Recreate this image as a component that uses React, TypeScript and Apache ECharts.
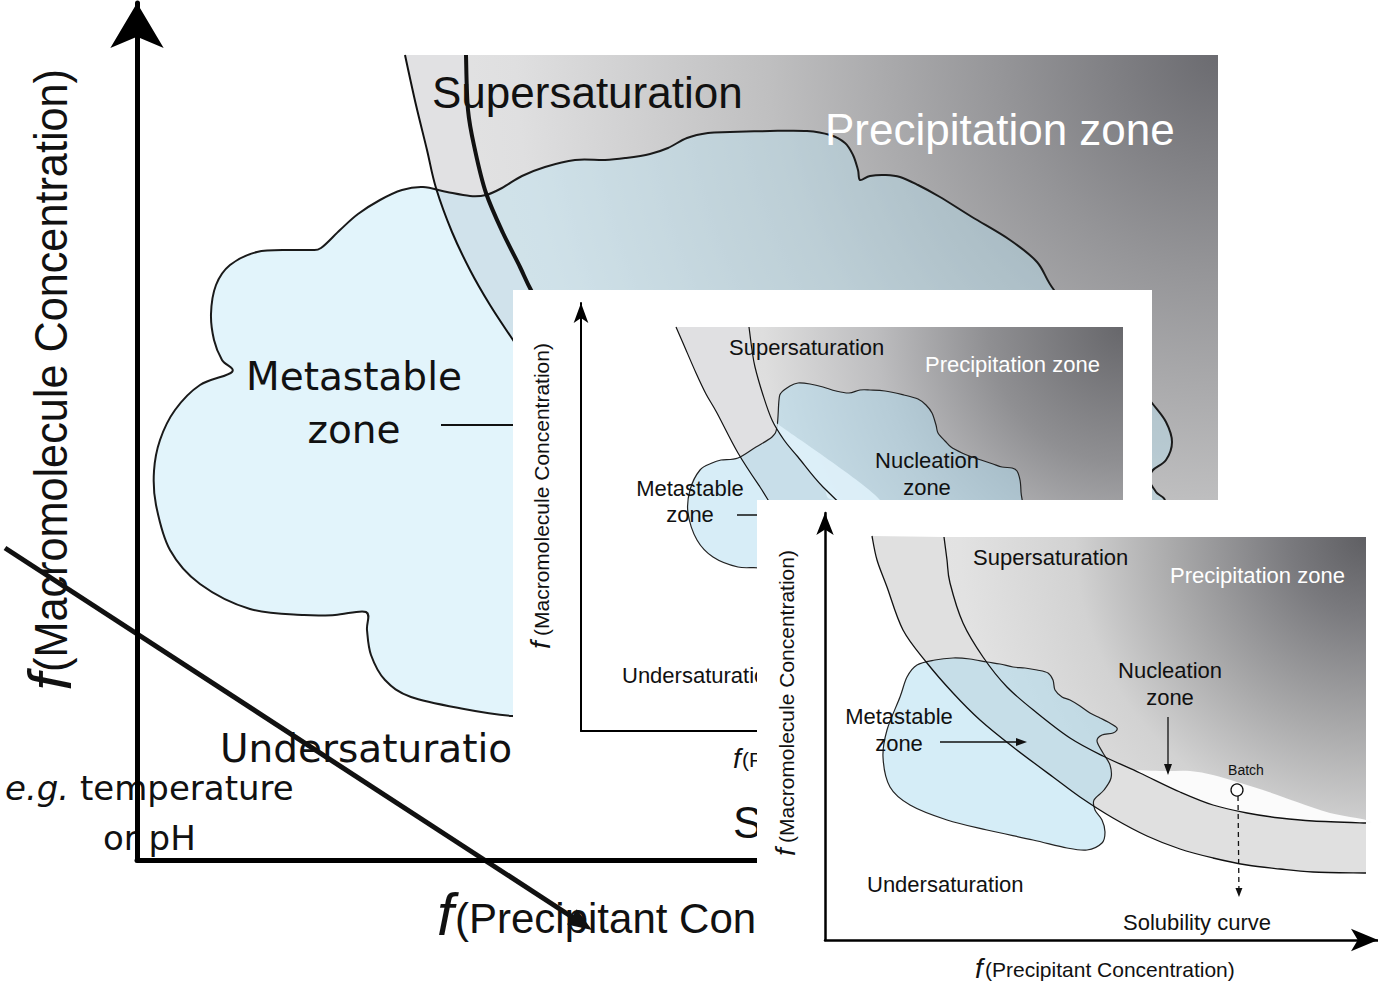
import React, { useEffect, useRef } from "react";
import * as echarts from "echarts";

type Pt = [number, number];

const SANS = '"Liberation Sans", Arial, Helvetica, sans-serif';
const WIDE = '"DejaVu Sans", Verdana, sans-serif';

// ---------- Panel 1 (large, back) : local units, x from vertical axis, y up from horizontal axis ----------
const P1_OUTER: Pt[] = [[268, 805], [279, 755], [290, 710], [299, 672], [315, 628], [333, 590], [353, 555], [376, 520], [423, 450], [493, 380], [583, 315], [713, 255], [863, 210], [1081, 170]];
const P1_INNER: Pt[] = [[329, 805], [331, 750], [338, 710], [349, 667], [366, 627], [383, 593], [395, 568], [423, 520], [473, 460], [543, 400], [643, 340], [763, 290], [913, 250], [1081, 220]];
const P1_CLOUD: Pt[] = [[184, 612], [203, 630], [221, 646], [243, 660], [265, 670], [286, 673], [310, 668], [333, 664], [349, 665], [365, 672], [385, 684], [408, 693], [438, 700], [468, 700], [489, 702], [513, 706], [531, 712], [550, 722], [571, 727], [593, 728], [633, 729], [670, 729], [693, 725], [708, 717], [716, 705], [721, 690], [723, 680], [733, 684], [748, 685], [763, 683], [781, 675], [803, 663], [835, 643], [873, 620], [900, 598], [917, 570], [953, 530], [988, 490], [1015, 457], [1029, 438], [1035, 418], [1029, 400], [1016, 390], [1012, 380], [1019, 368], [1029, 352], [1013, 290], [943, 220], [813, 170], [663, 150], [513, 144], [423, 143], [375, 144], [327, 151], [274, 163], [248, 180], [234, 205], [230, 230], [229, 248], [198, 245], [167, 245], [113, 251], [63, 276], [33, 310], [19, 355], [17, 389], [23, 420], [38, 450], [63, 475], [95, 488], [85, 500], [77, 520], [74, 546], [79, 575], [93, 595], [120, 608], [153, 610], [173, 610]];
const P1_POINTER: Pt[] = [[304, 435], [423, 435]];
const P1_TREND: Pt[] = [[-132, 312], [455, -70]];

// ---------- Panel 2 (middle) ----------
const P2_OUTER: Pt[] = [[95, 404], [105, 381], [115, 358], [125, 337], [136, 318], [157, 278], [179, 244], [209, 201], [269, 151], [369, 101], [542, 51]];
const P2_INNER: Pt[] = [[168, 404], [171, 381], [174, 364], [182, 336], [191, 311], [203, 291], [217, 274], [242, 244], [279, 211], [339, 171], [419, 136], [542, 101]];
const P2_CLOUD: Pt[] = [[198, 331], [200, 338], [209, 345], [217, 348], [229, 347], [242, 344], [255, 340], [268, 338], [279, 341], [289, 341], [304, 340], [323, 336], [337, 332], [345, 326], [351, 318], [355, 306], [357, 298], [364, 290], [370, 284], [381, 278], [391, 274], [400, 271], [412, 267], [421, 264], [431, 263], [436, 260], [439, 251], [440, 239], [441, 211], [419, 171], [319, 151], [199, 156], [179, 163], [157, 164], [132, 174], [116, 191], [107, 218], [109, 241], [119, 261], [131, 268], [140, 271], [157, 273], [175, 284], [191, 294], [196, 304]];
const P2_WEDGE: Pt[] = [[193, 307], [217, 274], [242, 244], [252, 231], [299, 231], [198, 306]];
const P2_POINTER: Pt[] = [[156, 216], [235, 216]];

// ---------- Panel 3 (front) ----------
const P3_OUTER: Pt[] = [[47, 404], [52, 380], [62, 353], [78, 310], [102, 277], [128, 247], [155, 220], [188, 193], [228, 163], [255, 143], [288, 122], [322, 104], [355, 91], [388, 82], [422, 75], [455, 71], [488, 68], [541, 67]];
const P3_INNER: Pt[] = [[119, 403], [122, 380], [125, 357], [138, 317], [158, 283], [182, 253], [212, 227], [245, 202], [278, 184], [315, 167], [355, 148], [388, 135], [422, 127], [455, 122], [488, 119], [541, 117]];
const P3_BATCH_ZONE: Pt[] = [[305, 170], [338, 169], [365, 169], [388, 165], [412, 158], [438, 150], [472, 138], [505, 127], [541, 120], [541, 117], [488, 119], [455, 122], [422, 127], [388, 135], [355, 148], [315, 167]];
const P3_CLOUD: Pt[] = [[92, 275], [110, 280], [128, 282], [145, 281], [162, 278], [175, 276], [188, 273], [200, 272], [212, 270], [223, 267], [228, 260], [230, 250], [237, 243], [245, 240], [255, 234], [265, 227], [275, 222], [283, 218], [292, 212], [288, 207], [277, 205], [272, 199], [278, 187], [285, 175], [286, 162], [279, 150], [269, 140], [270, 130], [277, 120], [280, 108], [277, 97], [262, 90], [242, 92], [208, 100], [162, 110], [122, 120], [85, 135], [65, 153], [58, 183], [62, 210], [75, 243], [82, 263]];
const P3_META_ARROW: Pt[] = [[115, 198], [202, 198]];
const P3_NUCL_ARROW: Pt[] = [[343, 223], [343, 165]];
const P3_BATCH_PATH: Pt[] = [[413, 144], [414, 43]];
const P3_BATCH_POINT: Pt = [412, 150];

interface Label { text: string; at: Pt; size: number; family?: string; color?: string; align?: "left" | "center"; italic?: boolean; rotate?: boolean; sx?: number; }
interface Arrow { pts: Pt[]; width: number; head?: number; headW?: number; dash?: boolean; }
interface Panel {
  bg?: [Pt, Pt];
  grayTop: number; grayRight: number;
  outer: Pt[]; inner: Pt[]; outerW: number; innerW: number;
  band: string;
  glow: { center: Pt; r: number; stops: [number, string][] };
  clouds: { pts: Pt[]; fill: string; stroke: string; width: number }[];
  patches: { pts: Pt[]; fill: string }[];
  lines: Arrow[];
  circles: { at: Pt; r: number }[];
  labels: Label[];
  overlay: Arrow[];
}

const P1_LABELS: Label[] = [
  { text: "Supersaturation", at: [295, 752], size: 44 },
  { text: "Precipitation zone", at: [688, 715], size: 44, color: "#ffffff" },
  { text: "Metastable", at: [217, 470], size: 39, family: WIDE, align: "center" },
  { text: "zone", at: [217, 417], size: 39, family: WIDE, align: "center" },
  { text: "Undersaturation", at: [83, 98], size: 39, family: WIDE },
  { text: "e.g.", at: [-132, 60], size: 34, family: WIDE, italic: true },
  { text: "temperature", at: [-57, 60], size: 34, family: WIDE },
  { text: "or pH", at: [-34, 10], size: 34, family: WIDE },
  { text: "Solubility curve", at: [596, 22], size: 44 },
  { text: "f", at: [300, -75], size: 60, italic: true },
  { text: "(Precipitant Concentration)", at: [318, -73], size: 42 },
  { text: "f", at: [-88, 178], size: 62, italic: true, rotate: true, align: "center" },
  { text: "(Macromolecule Concentration)", at: [-86, 188], size: 47, rotate: true, sx: 0.92 },
];
const P2_LABELS: Label[] = [
  { text: "Supersaturation", at: [148, 376], size: 22 },
  { text: "Precipitation zone", at: [344, 359], size: 22, color: "#ffffff" },
  { text: "Nucleation", at: [346, 263], size: 22, align: "center" },
  { text: "zone", at: [346, 236], size: 22, align: "center" },
  { text: "Metastable", at: [109, 235], size: 22, align: "center" },
  { text: "zone", at: [109, 209], size: 22, align: "center" },
  { text: "Undersaturation", at: [41, 48], size: 22 },
  { text: "f", at: [152, -37], size: 28, italic: true },
  { text: "(Precipitant Concentration)", at: [161, -36], size: 21 },
  { text: "f", at: [-41, 86], size: 28, italic: true, rotate: true, align: "center" },
  { text: "(Macromolecule Concentration)", at: [-40, 95], size: 21, rotate: true },
];
const P3_LABELS: Label[] = [
  { text: "Supersaturation", at: [148, 375], size: 22 },
  { text: "Precipitation zone", at: [345, 357], size: 22, color: "#ffffff" },
  { text: "Nucleation", at: [345, 262], size: 22, align: "center" },
  { text: "zone", at: [345, 235], size: 22, align: "center" },
  { text: "Metastable", at: [74, 216], size: 22, align: "center" },
  { text: "zone", at: [74, 189], size: 22, align: "center" },
  { text: "Batch", at: [421, 165], size: 14, align: "center" },
  { text: "Undersaturation", at: [42, 48], size: 22 },
  { text: "Solubility curve", at: [298, 10], size: 22 },
  { text: "f", at: [150, -38], size: 28, italic: true },
  { text: "(Precipitant Concentration)", at: [160, -37], size: 21 },
  { text: "f", at: [-40, 88], size: 28, italic: true, rotate: true, align: "center" },
  { text: "(Macromolecule Concentration)", at: [-39, 97], size: 21, rotate: true },
];

const PANEL1: Panel = {
  grayTop: 805, grayRight: 1081,
  outer: P1_OUTER, inner: P1_INNER, outerW: 2, innerW: 4,
  band: "#e1e1e3",
  glow: { center: [1081, 805], r: 900, stops: [[0, "#6b6b70"], [0.24, "#959598"], [0.5, "#bfbfc0"], [0.78, "#dfdfe0"], [1, "#e8e8e8"]] },
  clouds: [{ pts: P1_CLOUD, fill: "rgba(185,228,246,0.42)", stroke: "#1a1a1a", width: 2 }],
  patches: [],
  lines: [{ pts: P1_POINTER, width: 2 }],
  circles: [],
  labels: P1_LABELS,
  overlay: [{ pts: P1_TREND, width: 5, head: 24, headW: 18 }],
};
const PANEL2: Panel = {
  bg: [[-68, 441], [571, -49]],
  grayTop: 404, grayRight: 542,
  outer: P2_OUTER, inner: P2_INNER, outerW: 1.2, innerW: 1.2,
  band: "#e0e0e2",
  glow: { center: [542, 404], r: 450, stops: [[0, "#67676b"], [0.3, "#8f8f92"], [0.55, "#bdbdbf"], [0.8, "#dedede"], [1, "#e6e6e6"]] },
  clouds: [{ pts: P2_CLOUD, fill: "rgba(175,220,240,0.5)", stroke: "#222222", width: 1.2 }],
  patches: [{ pts: P2_WEDGE, fill: "rgba(226,244,252,0.8)" }],
  lines: [{ pts: P2_POINTER, width: 1.3 }],
  circles: [],
  labels: P2_LABELS,
  overlay: [],
};
const PANEL3: Panel = {
  bg: [[-68, 440], [553, -45]],
  grayTop: 403, grayRight: 541,
  outer: P3_OUTER, inner: P3_INNER, outerW: 1.3, innerW: 1.3,
  band: "#e0e0e0",
  glow: { center: [541, 403], r: 520, stops: [[0, "#5f5f63"], [0.15, "#7a7a7e"], [0.37, "#a9a9aa"], [0.56, "#d2d2d2"], [0.78, "#e2e2e2"], [1, "#e6e6e6"]] },
  clouds: [{ pts: P3_CLOUD, fill: "rgba(175,220,240,0.52)", stroke: "#222222", width: 1.2 }],
  patches: [{ pts: P3_BATCH_ZONE, fill: "#fbfbfb" }],
  lines: [
    { pts: P3_META_ARROW, width: 1.3, head: 11, headW: 8 },
    { pts: P3_NUCL_ARROW, width: 1.3, head: 11, headW: 8 },
    { pts: P3_BATCH_PATH, width: 1.3, head: 9, headW: 7, dash: true },
  ],
  circles: [{ at: P3_BATCH_POINT, r: 6 }],
  labels: P3_LABELS,
  overlay: [],
};

const fmt = (p: number[]) => `${p[0].toFixed(1)},${p[1].toFixed(1)}`;
function splineSegs(pts: number[][], closed: boolean): string {
  const n = pts.length;
  const at = (i: number) => (closed ? pts[((i % n) + n) % n] : pts[Math.max(0, Math.min(n - 1, i))]);
  const segs = closed ? n : n - 1;
  let d = "";
  for (let i = 0; i < segs; i++) {
    const p0 = at(i - 1), p1 = at(i), p2 = at(i + 1), p3 = at(i + 2);
    const c1 = [p1[0] + (p2[0] - p0[0]) / 6, p1[1] + (p2[1] - p0[1]) / 6];
    const c2 = [p2[0] - (p3[0] - p1[0]) / 6, p2[1] - (p3[1] - p1[1]) / 6];
    d += ` C${fmt(c1)} ${fmt(c2)} ${fmt(p2)}`;
  }
  return d;
}

function makeRenderer(def: Panel) {
  return (_params: any, api: any) => {
    const c = (p: Pt) => api.coord(p) as number[];
    const mp = (pts: Pt[]) => pts.map(c);
    const children: any[] = [];
    const push = (el: any) => { el.z2 = children.length; children.push(el); };

    if (def.bg) {
      const a = c(def.bg[0]), b = c(def.bg[1]);
      push({ type: "rect", shape: { x: a[0], y: a[1], width: b[0] - a[0], height: b[1] - a[1] }, style: { fill: "#ffffff" } });
    }
    const outer = mp(def.outer), inner = mp(def.inner);
    const corner = c([def.grayRight, def.grayTop]);
    const bandPath = `M${fmt(outer[0])}` + splineSegs(outer, false) + ` L${fmt(inner[inner.length - 1])}` + splineSegs([...inner].reverse(), false) + " Z";
    push({ type: "path", shape: { pathData: bandPath }, style: { fill: def.band } });
    const darkPath = `M${fmt(inner[0])}` + splineSegs(inner, false) + ` L${fmt(corner)} Z`;
    const gc = c(def.glow.center);
    push({
      type: "path", shape: { pathData: darkPath },
      style: { fill: new echarts.graphic.RadialGradient(gc[0], gc[1], def.glow.r, def.glow.stops.map(([o, col]) => ({ offset: o, color: col })), true) },
    });
    for (const cl of def.clouds) {
      push({ type: "path", shape: { pathData: `M${fmt(c(cl.pts[0]))}` + splineSegs(mp(cl.pts), true) + " Z" }, style: { fill: cl.fill, stroke: cl.stroke, lineWidth: cl.width } });
    }
    for (const pa of def.patches) {
      push({ type: "path", shape: { pathData: `M${fmt(c(pa.pts[0]))}` + splineSegs(mp(pa.pts), true) + " Z" }, style: { fill: pa.fill } });
    }
    push({ type: "path", shape: { pathData: `M${fmt(outer[0])}` + splineSegs(outer, false) }, style: { fill: "none", stroke: "#111", lineWidth: def.outerW } });
    push({ type: "path", shape: { pathData: `M${fmt(inner[0])}` + splineSegs(inner, false) }, style: { fill: "none", stroke: "#111", lineWidth: def.innerW } });

    const drawArrow = (A: Arrow) => {
      const a = c(A.pts[0]), b = c(A.pts[1]);
      let end = b;
      let headEl: any = null;
      if (A.head) {
        const dx = b[0] - a[0], dy = b[1] - a[1];
        const len = Math.hypot(dx, dy);
        const ux = dx / len, uy = dy / len;
        const bx = b[0] - ux * A.head, by = b[1] - uy * A.head;
        const hw = (A.headW || A.head * 0.7) / 2;
        end = [bx + ux * 2, by + uy * 2];
        headEl = { type: "polygon", shape: { points: [[b[0], b[1]], [bx - uy * hw, by + ux * hw], [bx + uy * hw, by - ux * hw]] }, style: { fill: "#111" } };
      }
      push({ type: "line", shape: { x1: a[0], y1: a[1], x2: end[0], y2: end[1] }, style: { stroke: "#111", lineWidth: A.width, lineDash: A.dash ? [5, 4] : null } });
      if (headEl) push(headEl);
    };
    def.lines.forEach(drawArrow);
    for (const ci of def.circles) {
      const p = c(ci.at);
      push({ type: "circle", shape: { cx: p[0], cy: p[1], r: ci.r }, style: { fill: "#ffffff", stroke: "#111", lineWidth: 1.3 } });
    }
    for (const L of def.labels) {
      const p = c(L.at);
      const font = `${L.italic ? "italic " : ""}${L.size}px ${L.family || SANS}`;
      if (L.rotate) {
        push({ type: "text", x: p[0], y: p[1], rotation: Math.PI / 2, scaleX: L.sx || 1, style: { text: L.text, font, fill: L.color || "#111", align: L.align || "left", verticalAlign: "middle" } });
      } else {
        push({ type: "text", x: p[0], y: p[1] - 0.346 * L.size, scaleX: L.sx || 1, style: { text: L.text, font, fill: L.color || "#111", align: L.align || "left", verticalAlign: "middle" } });
      }
    }
    def.overlay.forEach(drawArrow);
    return { type: "group", children };
  };
}

function axisPair(grid: number, xMax: number, yMax: number, z: number, width: number, xArrow: number[], yArrow: number[]) {
  const common = (arrow: number[]) => ({
    type: "value", gridIndex: grid, z,
    axisLine: { show: true, onZero: false, symbol: ["none", "arrow"], symbolSize: arrow, lineStyle: { color: "#000", width } },
    axisTick: { show: false }, axisLabel: { show: false }, splitLine: { show: false },
  });
  return {
    x: { ...common(xArrow), min: 0, max: xMax, position: "bottom" },
    y: { ...common(yArrow), min: 0, max: yMax, position: "left" },
  };
}

function buildOption() {
  const a1 = axisPair(0, 1100, 857, 2, 5, [40, 45], [40, 45]);
  const a2 = axisPair(1, 560, 428, 4, 2, [11, 20], [11, 20]);
  const a3 = axisPair(2, 553, 427, 6, 2.5, [17, 27], [13, 22]);
  const panels = [PANEL1, PANEL2, PANEL3];
  return {
    animation: false,
    backgroundColor: "#ffffff",
    tooltip: { show: false },
    grid: [
      { left: 137, top: 3, width: 1100, height: 857 },
      { left: 581, top: 303, width: 560, height: 428 },
      { left: 825, top: 513, width: 553, height: 427 },
    ],
    xAxis: [a1.x, a2.x, a3.x],
    yAxis: [a1.y, a2.y, a3.y],
    series: panels.map((p, i) => ({
      type: "custom",
      coordinateSystem: "cartesian2d",
      xAxisIndex: i,
      yAxisIndex: i,
      z: 1 + i * 2,
      clip: false,
      silent: true,
      data: [[0, 0]],
      renderItem: makeRenderer(p),
    })),
  };
}

export default function App() {
  const ref = useRef<HTMLDivElement>(null);
  useEffect(() => {
    if (!ref.current) return;
    const chart = echarts.init(ref.current, undefined, { renderer: "svg" });
    chart.setOption(buildOption() as any);
    return () => chart.dispose();
  }, []);
  return <div ref={ref} style={{ position: "absolute", left: 0, top: 0, width: 1378, height: 985, background: "#fff" }} />;
}
